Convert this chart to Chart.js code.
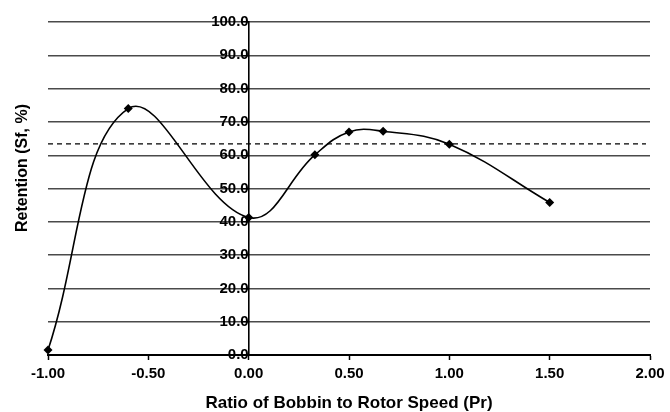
<!DOCTYPE html>
<html>
<head>
<meta charset="utf-8">
<script src="https://cdn.jsdelivr.net/npm/chart.js@4/dist/chart.umd.min.js"></script>
<style>
  html, body { margin: 0; padding: 0; background: #fff; }
  #wrap { width: 670px; height: 412px; }
</style>
</head>
<body>
<div id="wrap"><canvas id="c" width="670" height="412"></canvas></div>
<script>
// Data
const speedRatio = [-1.00, -0.60, 0.00, 0.33, 0.50, 0.67, 1.00, 1.50];
const retention  = [1.5, 74.0, 41.3, 60.1, 67.0, 67.2, 63.3, 45.8];
const refLineX   = [-1.00, 1.98];
const refLineY   = 63.4;
const xTicks     = [-1.0, -0.5, 0.0, 0.5, 1.0, 1.5, 2.0];
const yTicks     = [0, 10, 20, 30, 40, 50, 60, 70, 80, 90, 100];
const xTitle     = 'Ratio of Bobbin to Rotor Speed (Pr)';
const yTitle     = 'Retention (Sf, %)';

const FONT = "'Liberation Sans', Arial, sans-serif";

const mainData = speedRatio.map((x, i) => ({ x: x, y: retention[i] }));
const refData = refLineX.map(x => ({ x: x, y: refLineY }));

const yTitlePlugin = {
  id: 'yTitlePlugin',
  afterDraw(chart) {
    const ctx = chart.ctx;
    ctx.save();
    ctx.translate(23, 168);
    ctx.rotate(-Math.PI / 2);
    ctx.font = "bold 16px " + FONT;
    ctx.fillStyle = '#000';
    ctx.textAlign = 'center';
    ctx.textBaseline = 'middle';
    ctx.fillText(yTitle, 0, 0);
    ctx.restore();
  }
};

new Chart(document.getElementById('c'), {
  type: 'scatter',
  data: {
    datasets: [
      {
        data: mainData,
        showLine: true,
        tension: 0.4,
        borderColor: '#000',
        borderWidth: 1.6,
        pointStyle: 'rectRot',
        pointRadius: 4.5,
        pointBackgroundColor: '#000',
        pointBorderColor: '#000',
        pointBorderWidth: 0,
        clip: false,
        order: 0
      },
      {
        data: refData,
        showLine: true,
        borderColor: '#000',
        borderWidth: 1.3,
        borderDash: [5, 4],
        pointRadius: 0,
        order: 1
      }
    ]
  },
  plugins: [yTitlePlugin],
  options: {
    responsive: false,
    animation: false,
    devicePixelRatio: 1,
    layout: { padding: { top: 22, right: 20, bottom: 0, left: 48 } },
    plugins: { legend: { display: false }, tooltip: { enabled: false } },
    scales: {
      x: {
        type: 'linear',
        position: 'bottom',
        min: xTicks[0],
        max: xTicks[xTicks.length - 1],
        afterBuildTicks: s => { s.ticks = xTicks.map(v => ({ value: v })); },
        ticks: {
          color: '#000',
          font: { family: FONT, size: 15, weight: 'bold' },
          padding: 5,
          maxRotation: 0,
          callback: v => Number(v).toFixed(2)
        },
        grid: { drawOnChartArea: false, drawTicks: true, tickLength: 5, tickColor: '#000', tickWidth: 1.5 },
        border: { display: true, color: '#000', width: 2 },
        title: {
          display: true,
          text: xTitle,
          color: '#000',
          font: { family: FONT, size: 17, weight: 'bold', lineHeight: 1.0 },
          padding: { top: 7, bottom: 0 }
        }
      },
      y: {
        type: 'linear',
        position: { x: 0 },
        min: yTicks[0],
        max: yTicks[yTicks.length - 1],
        afterBuildTicks: s => { s.ticks = yTicks.map(v => ({ value: v })); },
        ticks: {
          color: '#000',
          font: { family: FONT, size: 15, weight: 'bold' },
          padding: 1,
          callback: v => Number(v).toFixed(1)
        },
        grid: { color: '#4a4a4a', lineWidth: 1.4, drawTicks: true, tickLength: 5, tickColor: '#000', tickWidth: 1.3 },
        border: { display: true, color: '#000', width: 1.6 }
      }
    }
  }
});
</script>
</body>
</html>
